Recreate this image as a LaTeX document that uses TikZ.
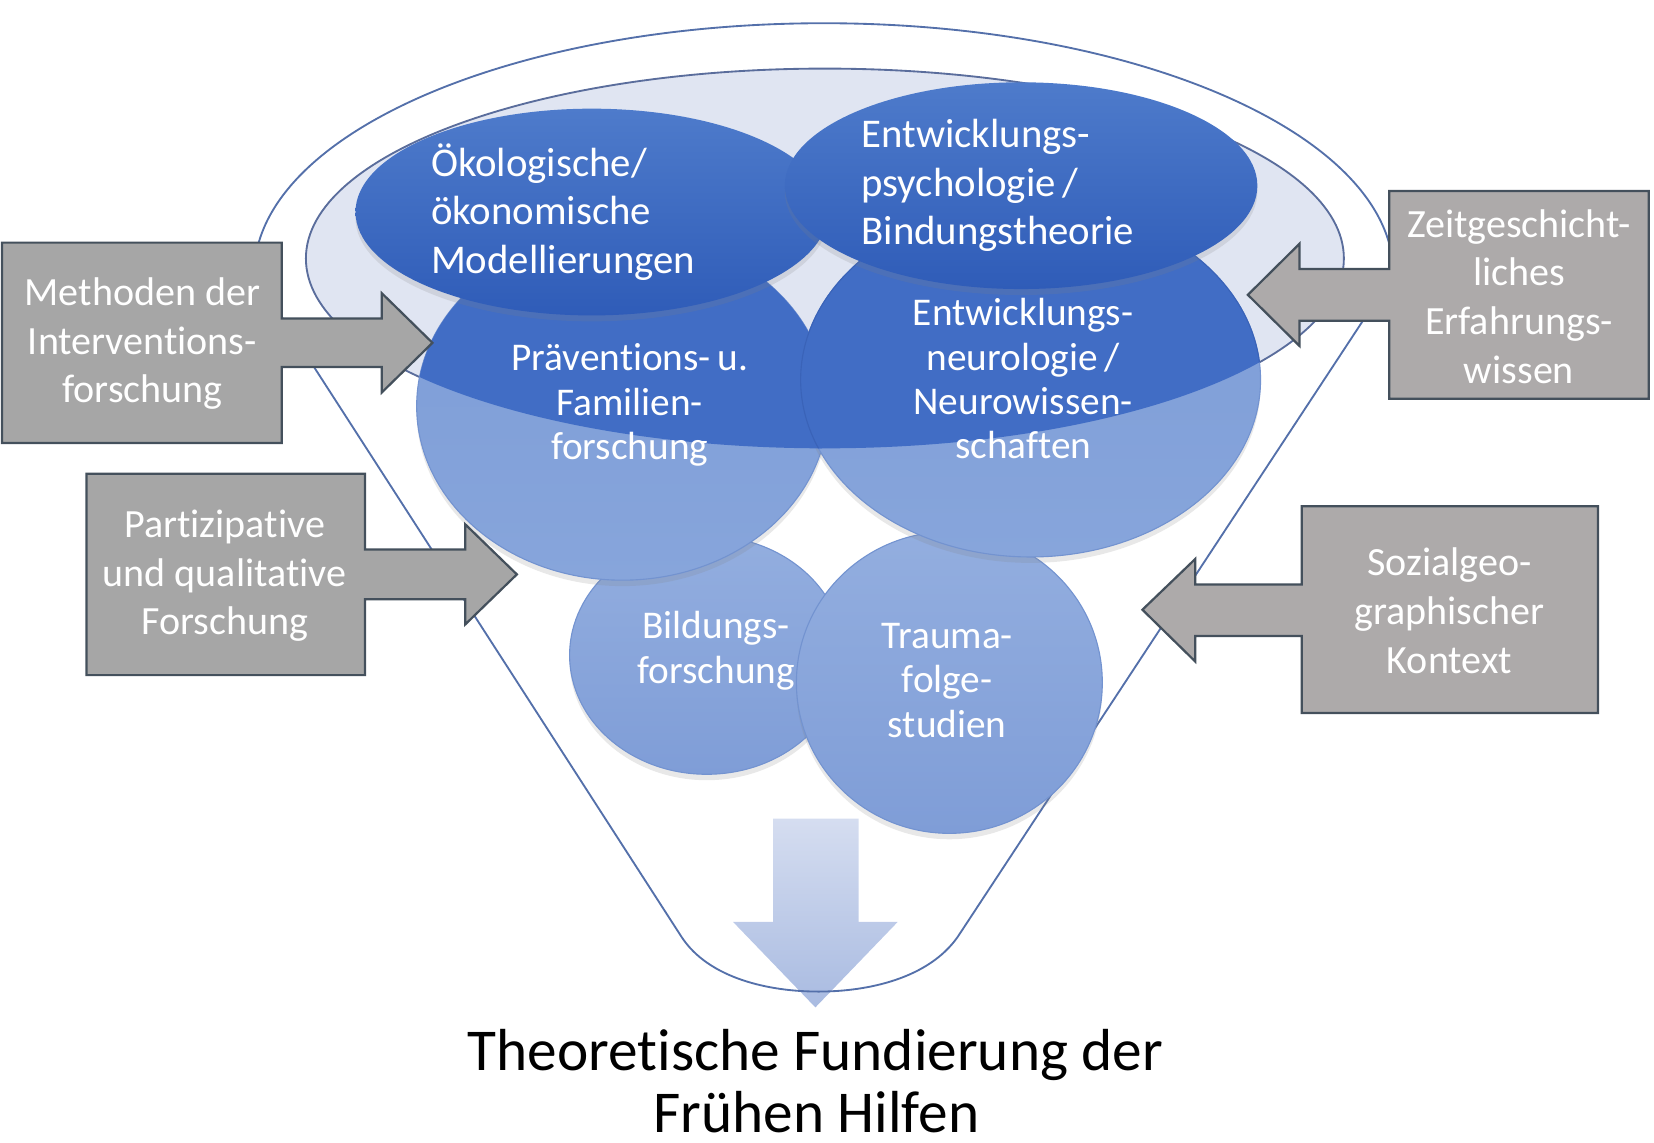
\documentclass[tikz,border=0pt]{standalone}
\usepackage{fontspec}
\setmainfont{Carlito}[RawFeature={-liga;-clig;-calt;-dlig}]
\usetikzlibrary{shadows}
\definecolor{funnelline}{HTML}{5470AA}
\definecolor{lavfill}{HTML}{E0E5F2}
\definecolor{lavline}{HTML}{5A6D9C}
\definecolor{darkA}{HTML}{4E7BCB}
\definecolor{darkB}{HTML}{2F5CB8}
\definecolor{bandblue}{HTML}{416DC5}
\definecolor{bandedge}{HTML}{3A63B8}
\definecolor{lightT}{HTML}{7C9CD7}
\definecolor{lightB}{HTML}{87A5DB}
\definecolor{lightedge}{HTML}{7393D0}
\definecolor{smallT}{HTML}{93AEDF}
\definecolor{smallB}{HTML}{7F9DD7}
\definecolor{boxgrayL}{HTML}{A6A6A6}
\definecolor{boxgrayR}{HTML}{ADAAAA}
\definecolor{boxline}{HTML}{44505C}
\definecolor{arrT}{HTML}{D5DDF0}
\definecolor{arrB}{HTML}{A9BBE1}
\begin{document}
\begin{tikzpicture}[x=0.1mm, y=-0.1mm,
  outline/.style={draw=funnelline, line width=0.5pt},
  callout/.style={draw=boxline, line width=0.6pt, line join=miter},
  boxtext/.style={text=white, font=\fontsize{10.8}{13.1}\selectfont, align=center, inner sep=0pt},
  ovaltext/.style={text=white, font=\fontsize{11}{13.1}\selectfont, align=left, inner sep=0pt, anchor=west},
  circtext/.style={text=white, font=\fontsize{10.6}{11.95}\selectfont, align=center, inner sep=0pt},
  titletext/.style={text=black, font=\fontsize{16}{16.8}\selectfont, inner sep=0pt, anchor=base},
  softshadow/.style={drop shadow={opacity=0.18, shadow xshift=0pt, shadow yshift=-1.6pt}},
  edgeline/.style={draw=lightedge, line width=0.3pt},
]
\useasboundingbox (0,0) rectangle (1568,1083);

% down arrow
\path[top color=arrT, bottom color=arrB] (733,776) -- (814,776) -- (814,874) -- (851,874) -- (773,955) -- (695,874) -- (733,874) -- cycle;

% funnel outline
\draw[outline] (241,260) arc[start angle=180, end angle=360, x radius=540, y radius=238]
  -- (908,888) .. controls (880,928) and (822,940) .. (776,940)
  .. controls (730,940) and (672,928) .. (646,888) -- cycle;

% inner lavender ellipse
\draw[fill=lavfill, draw=lavline, line width=0.5pt] (782,245) ellipse[x radius=492, y radius=180];

% small circles
\path[top color=smallT, bottom color=smallB, softshadow, edgeline] (670,621) ellipse[x radius=130, y radius=113];
\path[top color=smallT, bottom color=smallB, softshadow, edgeline] (900,647) ellipse[x radius=145, y radius=143];

% big circles (light part)
\path[top color=lightT, bottom color=lightB, softshadow, edgeline] (590,385) ellipse[x radius=195, y radius=165];
\path[top color=lightT, bottom color=lightB, softshadow, edgeline] (977,360) ellipse[x radius=218, y radius=168];

% dark band inside the lavender ellipse
\begin{scope}
  \clip (782,245) ellipse[x radius=492, y radius=180];
  \fill[bandblue] (590,385) ellipse[x radius=195, y radius=165];
  \path[fill=bandblue, draw=bandedge, line width=0.3pt] (977,360) ellipse[x radius=218, y radius=168];
\end{scope}

% top ellipses
\path[top color=darkA, bottom color=darkB, softshadow] (561,201) ellipse[x radius=224, y radius=98];
\path[top color=darkA, bottom color=darkB, softshadow] (968,176) ellipse[x radius=224, y radius=98];

% texts in ellipses and circles
\node[ovaltext] (tA) at (408,201) {Ökologische/\\ökonomische\\Modellierungen};
\node[ovaltext] (tB) at (816,176) {Entwicklungs-\\psychologie\,/\\Bindungstheorie};
\node[circtext] (tC) at (597,384) {Präventions-\,u.\\Familien-\\forschung};
\node[circtext] (tD) at (970,359) {Entwicklungs-\\neurologie\,/\\Neurowissen-\\schaften};
\node[circtext] (tE) at (679,617) {Bildungs-\\forschung};
\node[circtext] (tF) at (898,645) {Trauma-\\folge-\\studien};

% gray arrow callouts
\draw[callout, fill=boxgrayL] (2,230) -- (267,230) -- (267,302) -- (362,302) -- (362,278) -- (410,325)
  -- (362,372) -- (362,348) -- (267,348) -- (267,420) -- (2,420) -- cycle;
\node[boxtext] (t1) at (135,326) {Methoden der\\Interventions-\\forschung};

\draw[callout, fill=boxgrayL] (82,449) -- (346,449) -- (346,521) -- (441,521) -- (441,497) -- (490,544.5)
  -- (441,592) -- (441,568) -- (346,568) -- (346,640) -- (82,640) -- cycle;
\node[boxtext] (t2) at (213,546) {Partizipative\\und qualitative\\Forschung};

\draw[callout, fill=boxgrayR] (1563,181) -- (1317,181) -- (1317,255) -- (1232,255) -- (1232,231) -- (1183,279.5)
  -- (1232,328) -- (1232,304) -- (1317,304) -- (1317,378) -- (1563,378) -- cycle;
\node[boxtext] (t3) at (1440,281) {Zeitgeschicht-\\liches\\Erfahrungs-\\wissen};

\draw[callout, fill=boxgrayR] (1515,480) -- (1234,480) -- (1234,554) -- (1133,554) -- (1133,530) -- (1083,578)
  -- (1133,627) -- (1133,603) -- (1234,603) -- (1234,676) -- (1515,676) -- cycle;
\node[boxtext] (t4) at (1374,579) {Sozialgeo-\\graphischer\\Kontext};

% title
\node[titletext] (title1) at (773,1015) {Theoretische Fundierung der};
\node[titletext] (title2) at (774,1074) {Frühen Hilfen};
\end{tikzpicture}
\end{document}
